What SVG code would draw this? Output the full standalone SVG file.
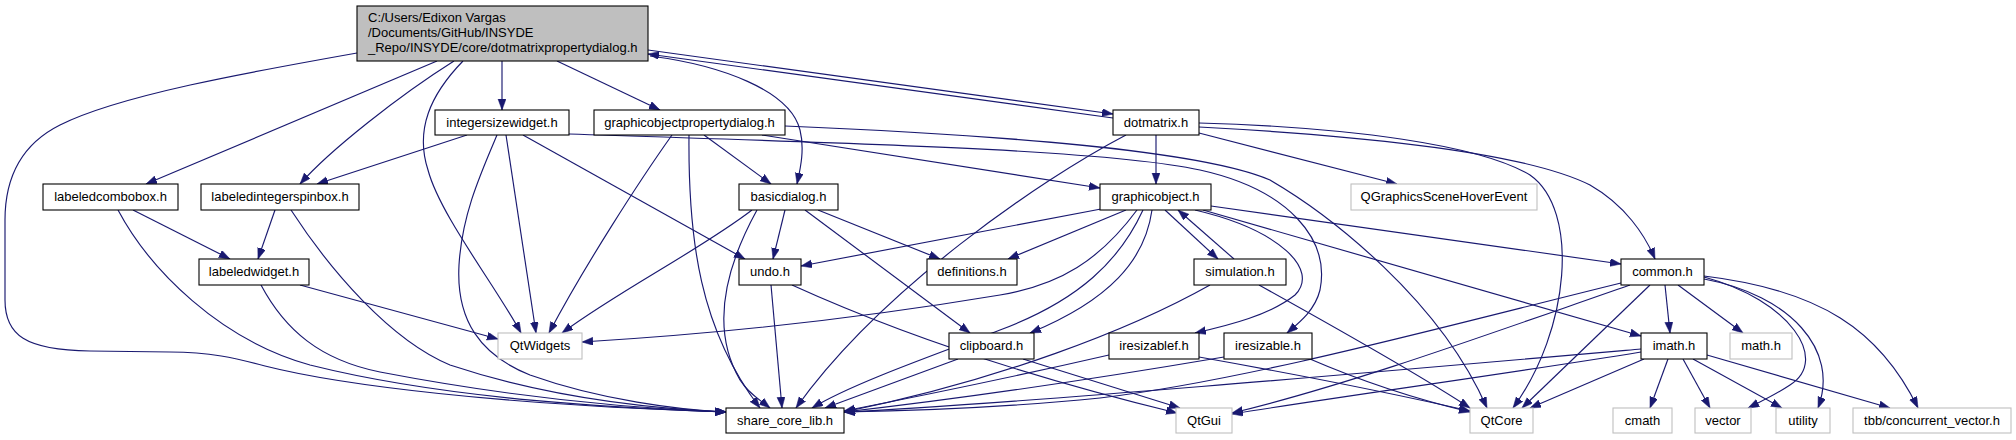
<svg xmlns="http://www.w3.org/2000/svg" width="2016" height="440" viewBox="0 0 2016 440">
<defs>
<marker id="a" markerUnits="userSpaceOnUse" markerWidth="12" markerHeight="9" refX="11" refY="4" orient="auto">
<path d="M0,0 L11,4 L0,8 Z" fill="#191970" stroke="#191970" stroke-width="0.5"/>
</marker>
<style>
.n rect{fill:#fff;stroke:#000;stroke-width:1.1}
.x rect{fill:#fff;stroke:#bfbfbf;stroke-width:1.1}
.m rect{fill:#bfbfbf;stroke:#000;stroke-width:1.1}
text{font-family:"Liberation Sans",Arial,sans-serif;font-size:13px;fill:#000}
.n text,.x text{text-anchor:middle}
#edges path{fill:none;stroke:#191970;stroke-width:1.15;marker-end:url(#a)}
</style>
</defs>
<rect width="2016" height="440" fill="#fff"/>
<g id="edges">
<path d="M357,53 C250,72 120,95 60,125 C20,145 5,180 5,220 L5,300 C5,335 25,350 90,351 L170,352 C210,352 235,358 265,366 C340,385 500,405 726,412"/>
<path d="M437,61 L146,184"/>
<path d="M454,61 C400,95 330,150 300,184"/>
<path d="M463,61 C430,95 415,130 428,170 C440,215 495,285 521,333"/>
<path d="M502,61 L502,110"/>
<path d="M557,61 L660,110"/>
<path d="M650,56 C720,65 790,90 800,130 C805,150 800,170 797,184"/>
<path d="M648,50 L1113,114"/>
<path d="M1113,118 L648,54"/>
<path d="M467,135 L317,184"/>
<path d="M506,135 L536,333"/>
<path d="M497,135 C480,175 462,215 459,265 C456,320 480,355 530,375 C600,400 680,410 726,412"/>
<path d="M523,135 L745,259"/>
<path d="M569,134 C800,142 1100,148 1200,170 C1290,190 1330,240 1320,290 C1315,310 1300,322 1287,333"/>
<path d="M704,135 L771,184"/>
<path d="M762,135 L1100,188"/>
<path d="M672,135 C640,180 585,265 549,333"/>
<path d="M689,135 C688,240 700,330 760,408"/>
<path d="M785,126 C1000,135 1200,150 1270,180 C1330,215 1440,300 1487,408"/>
<path d="M1156,135 L1156,184"/>
<path d="M1126,135 C1040,180 880,290 796,408"/>
<path d="M1199,133 L1397,184"/>
<path d="M1199,123 C1350,127 1480,145 1530,175 C1580,210 1570,330 1513,408"/>
<path d="M1199,127 C1350,135 1520,150 1590,185 C1625,205 1645,235 1655,259"/>
<path d="M133,210 L230,259"/>
<path d="M118,210 C150,270 220,340 310,365 C450,400 620,408 726,412"/>
<path d="M275,210 L258,259"/>
<path d="M291,210 C330,270 390,340 450,365 C540,395 640,408 726,412"/>
<path d="M300,285 L498,339"/>
<path d="M261,285 C285,330 320,360 380,372 C500,395 620,408 726,412"/>
<path d="M785,210 L773,259"/>
<path d="M818,210 L940,259"/>
<path d="M805,210 L970,333"/>
<path d="M752,210 C700,250 620,290 562,333"/>
<path d="M757,210 C735,250 705,320 740,380 C748,393 760,400 770,408"/>
<path d="M771,285 L782,408"/>
<path d="M792,285 C880,325 1000,370 1177,413"/>
<path d="M1101,209 L801,266"/>
<path d="M1126,210 L1008,259"/>
<path d="M1137,210 C1100,260 1060,285 1000,295 C850,320 700,335 582,342"/>
<path d="M1143,210 C1120,260 1080,300 1000,330 C920,360 850,385 812,408"/>
<path d="M1152,210 C1145,260 1110,300 1030,333"/>
<path d="M1165,210 L1218,259"/>
<path d="M1234,259 L1178,210"/>
<path d="M1195,210 C1280,230 1320,270 1295,295 C1270,315 1230,325 1195,333"/>
<path d="M1211,206 L1621,264"/>
<path d="M1203,210 L1641,336"/>
<path d="M1210,285 C1130,330 1000,380 844,412"/>
<path d="M1259,285 C1340,330 1420,375 1470,408"/>
<path d="M958,359 L825,408"/>
<path d="M1023,359 L1180,408"/>
<path d="M1109,355 C1000,380 900,400 844,411"/>
<path d="M1199,357 C1300,375 1400,395 1470,411"/>
<path d="M1224,357 C1100,378 950,400 844,412"/>
<path d="M1310,359 C1370,385 1420,400 1470,412"/>
<path d="M1621,283 C1450,325 1250,380 1100,398 C1000,408 900,411 844,412"/>
<path d="M1630,285 C1500,330 1350,385 1232,413"/>
<path d="M1650,285 L1522,408"/>
<path d="M1665,285 L1670,333"/>
<path d="M1678,285 L1743,333"/>
<path d="M1704,277 C1790,300 1830,360 1790,385 C1775,395 1760,402 1748,408"/>
<path d="M1704,279 C1790,295 1840,350 1818,408"/>
<path d="M1704,276 C1820,290 1880,330 1918,408"/>
<path d="M1641,349 C1400,370 1000,405 844,412"/>
<path d="M1641,352 C1500,375 1350,395 1232,414"/>
<path d="M1644,359 L1530,408"/>
<path d="M1668,359 L1650,408"/>
<path d="M1683,359 L1710,408"/>
<path d="M1693,359 L1782,408"/>
<path d="M1707,355 L1890,408"/>
</g>
<g id="n_main" class="m"><rect x="357" y="6" width="291" height="55"/>
<text x="368" y="22">C:/Users/Edixon Vargas</text>
<text x="368" y="37">/Documents/GitHub/INSYDE</text>
<text x="368" y="52">_Repo/INSYDE/core/dotmatrixpropertydialog.h</text></g>
<g id="n_integersizewidget" class="n"><rect x="435" y="110" width="134" height="25"/><text x="502" y="127">integersizewidget.h</text></g>
<g id="n_graphicobjectpropertydialog" class="n"><rect x="594" y="110" width="191" height="25"/><text x="689.5" y="127">graphicobjectpropertydialog.h</text></g>
<g id="n_dotmatrix" class="n"><rect x="1113" y="110" width="86" height="25"/><text x="1156" y="127">dotmatrix.h</text></g>
<g id="n_labeledcombobox" class="n"><rect x="43" y="184" width="135" height="26"/><text x="110.5" y="201">labeledcombobox.h</text></g>
<g id="n_labeledintegerspinbox" class="n"><rect x="201" y="184" width="158" height="26"/><text x="280" y="201">labeledintegerspinbox.h</text></g>
<g id="n_basicdialog" class="n"><rect x="739" y="184" width="99" height="26"/><text x="788.5" y="201">basicdialog.h</text></g>
<g id="n_graphicobject" class="n"><rect x="1100" y="184" width="111" height="26"/><text x="1155.5" y="201">graphicobject.h</text></g>
<g id="n_qgraphicsscenehoverevent" class="x"><rect x="1351" y="184" width="186" height="26"/><text x="1444" y="201">QGraphicsSceneHoverEvent</text></g>
<g id="n_labeledwidget" class="n"><rect x="199" y="259" width="110" height="26"/><text x="254" y="276">labeledwidget.h</text></g>
<g id="n_undo" class="n"><rect x="739" y="259" width="62" height="26"/><text x="770" y="276">undo.h</text></g>
<g id="n_definitions" class="n"><rect x="927" y="259" width="90" height="26"/><text x="972" y="276">definitions.h</text></g>
<g id="n_simulation" class="n"><rect x="1194" y="259" width="92" height="26"/><text x="1240" y="276">simulation.h</text></g>
<g id="n_common" class="n"><rect x="1621" y="259" width="83" height="26"/><text x="1662.5" y="276">common.h</text></g>
<g id="n_qtwidgets" class="x"><rect x="498" y="333" width="84" height="26"/><text x="540" y="350">QtWidgets</text></g>
<g id="n_clipboard" class="n"><rect x="949" y="333" width="85" height="26"/><text x="991.5" y="350">clipboard.h</text></g>
<g id="n_iresizablef" class="n"><rect x="1109" y="333" width="90" height="26"/><text x="1154" y="350">iresizablef.h</text></g>
<g id="n_iresizable" class="n"><rect x="1224" y="333" width="88" height="26"/><text x="1268" y="350">iresizable.h</text></g>
<g id="n_imath" class="n"><rect x="1641" y="333" width="66" height="26"/><text x="1674" y="350">imath.h</text></g>
<g id="n_math" class="x"><rect x="1730" y="333" width="62" height="26"/><text x="1761" y="350">math.h</text></g>
<g id="n_share_core_lib" class="n"><rect x="726" y="408" width="118" height="25"/><text x="785" y="425">share_core_lib.h</text></g>
<g id="n_qtgui" class="x"><rect x="1176" y="408" width="56" height="25"/><text x="1204" y="425">QtGui</text></g>
<g id="n_qtcore" class="x"><rect x="1470" y="408" width="63" height="25"/><text x="1501.5" y="425">QtCore</text></g>
<g id="n_cmath" class="x"><rect x="1613" y="408" width="59" height="25"/><text x="1642.5" y="425">cmath</text></g>
<g id="n_vector" class="x"><rect x="1695" y="408" width="56" height="25"/><text x="1723" y="425">vector</text></g>
<g id="n_utility" class="x"><rect x="1776" y="408" width="54" height="25"/><text x="1803" y="425">utility</text></g>
<g id="n_tbb" class="x"><rect x="1853" y="408" width="158" height="25"/><text x="1932" y="425">tbb/concurrent_vector.h</text></g>
</svg>
